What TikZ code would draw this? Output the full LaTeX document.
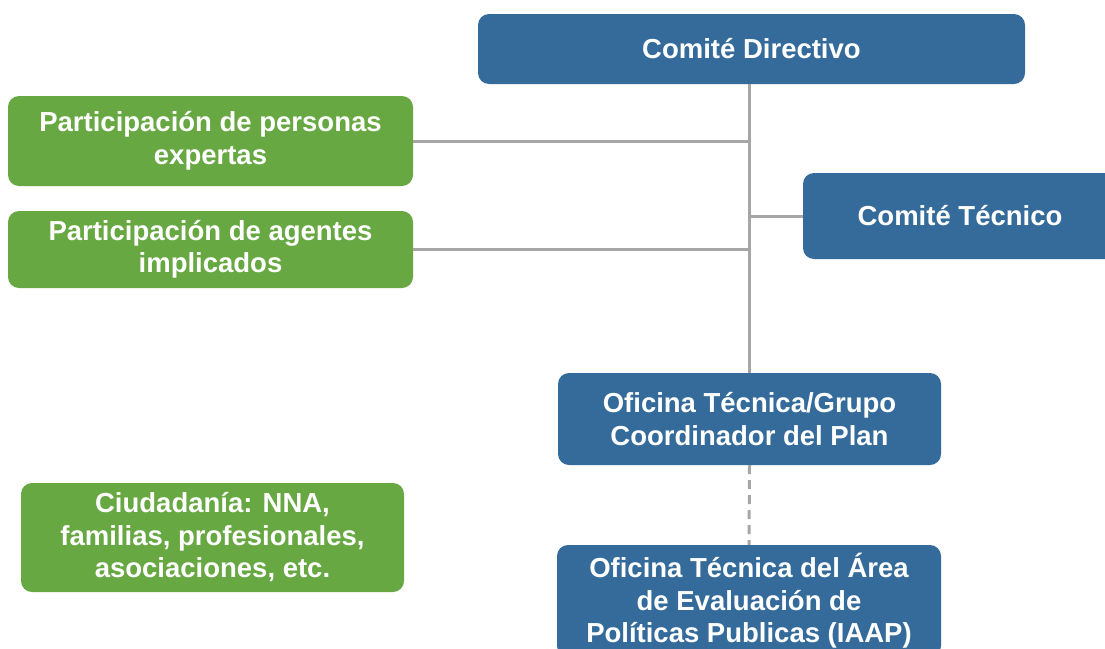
\documentclass[tikz,border=0pt]{standalone}
\usepackage{fontspec}
\setmainfont{Liberation Sans}
\definecolor{azul}{RGB}{52,107,155}
\definecolor{verde}{RGB}{103,168,66}
\definecolor{gris}{RGB}{166,166,166}
\usepackage{tikz}

\begin{document}
\begin{tikzpicture}[x=1pt, y=-1pt,
  caja/.style={rounded corners=11pt, text=white, align=center, inner sep=0pt,
    font=\bfseries\fontsize{27.5}{32.5}\selectfont},
  cazul/.style={caja, fill=azul},
  cverde/.style={caja, fill=verde},
  linea/.style={gris, line width=3pt}]
\useasboundingbox (0,0) rectangle (1105,648);
\node[cazul, minimum width=547pt, minimum height=70pt] (dir) at (751.5,49) {Comité Directivo};
\node[cverde, minimum width=405pt, minimum height=90pt] (exp) at (210.5,141) {Participación de personas\\expertas};
\node[cverde, minimum width=405pt, minimum height=77pt] (age) at (210.5,249.5) {Participación de agentes\\implicados};
\node[cazul, minimum width=314pt, minimum height=86pt] (tec) at (960,216) {Comité Técnico};
\node[cazul, minimum width=383pt, minimum height=92pt] (ofi) at (749.5,419) {Oficina Técnica/Grupo\\Coordinador del Plan};
\node[cverde, minimum width=383pt, minimum height=109pt] (ciu) at (212.5,537.5) {Ciudadanía: NNA,\\familias, profesionales,\\asociaciones, etc.};
\node[cazul, minimum width=384pt, minimum height=112pt] (iaap) at (749,601) {Oficina Técnica del Área\\de Evaluación de\\Políticas Publicas (IAAP)};
% lineas
\draw[linea] (dir.south -| ofi.north) -- (ofi.north);
\draw[linea] (exp.east) -- (exp.east -| ofi.north);
\draw[linea] (age.east) -- (age.east -| ofi.north);
\draw[linea] (tec.west) -- (tec.west -| ofi.north);
\draw[linea, dash pattern=on 9pt off 6pt] (ofi.south) -- (iaap.north);
\end{tikzpicture}
\end{document}
